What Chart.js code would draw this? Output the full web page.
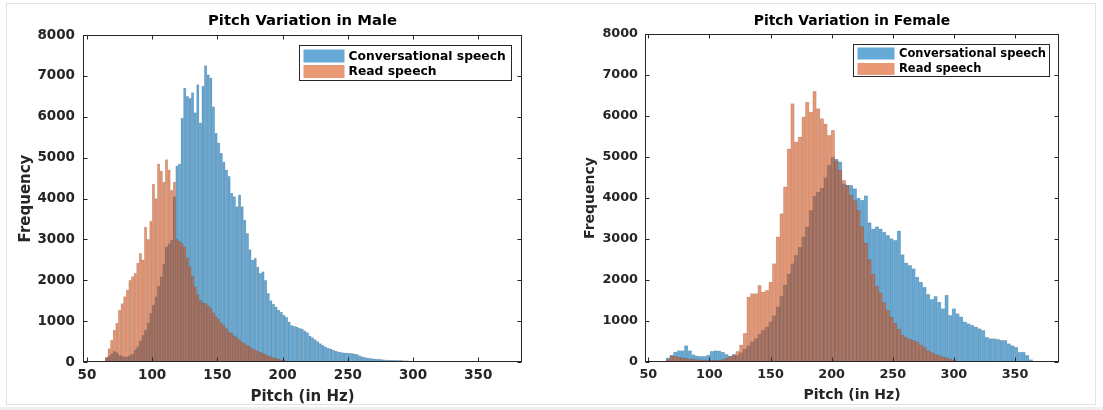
<!DOCTYPE html>
<html>
<head>
<meta charset="utf-8">
<script src="https://cdn.jsdelivr.net/npm/chart.js@4.4.1/dist/chart.umd.min.js"></script>
<style>
html,body{margin:0;padding:0;background:#fff;}
#wrap{position:relative;width:1103px;height:410px;overflow:hidden;background:#fff;}
#frame{position:absolute;left:6px;top:3px;width:1090px;height:402px;border:1px solid #e2e2e2;box-sizing:border-box;}
#strip{position:absolute;left:0;top:407px;width:1103px;height:3px;background:#efefef;}
.c{position:absolute;top:0;height:410px;}
#cA{left:0;width:551px;}
#cB{left:551px;width:552px;}
</style>
</head>
<body>
<div id="wrap">
  <div id="frame"></div>
  <div id="strip"></div>
  <div class="c" id="cA"><canvas id="male" width="551" height="410"></canvas></div>
  <div class="c" id="cB"><canvas id="female" width="552" height="410"></canvas></div>
</div>
<script>
// ---------------- DATA ----------------
const seriesNames = ['Conversational speech', 'Read speech'];
const xTicks = [50, 100, 150, 200, 250, 300, 350];
const yTicks = [0, 1000, 2000, 3000, 4000, 5000, 6000, 7000, 8000];

// Male: bin centres (Hz), 2 Hz bins
const maleCenters = [
  63,65,67,69,71,73,75,77,79,81,
  83,85,87,89,91,93,95,97,99,101,
  103,105,107,109,111,113,115,117,119,121,
  123,125,127,129,131,133,135,137,139,141,
  143,145,147,149,151,153,155,157,159,161,
  163,165,167,169,171,173,175,177,179,181,
  183,185,187,189,191,193,195,197,199,201,
  203,205,207,209,211,213,215,217,219,221,
  223,225,227,229,231,233,235,237,239,241,
  243,245,247,249,251,253,255,257,259,261,
  263,265,267,269,271,273,275,277,279,281,
  283,285,287,289,291,293,295,297,299,301,
  303,305,307,309,311,313,315,317,319,321,
  323,325
];
const maleConversational = [
  0,100,150,200,260,230,170,150,120,130,
  170,200,300,380,520,650,780,960,1190,1400,
  1600,1850,2090,2400,2820,2900,2990,4050,4800,4850,
  5970,6710,6500,6450,6590,6100,6790,5850,6750,7250,
  7030,6950,6250,5600,5360,5110,4900,4700,4540,4130,
  4050,3800,4090,3800,3480,3150,2750,2500,2540,2330,
  2170,2210,2000,1680,1500,1420,1350,1270,1220,1150,
  1100,980,900,870,860,830,810,760,720,640,
  600,550,500,450,410,370,340,320,290,265,
  250,235,225,225,215,215,200,190,160,130,
  115,100,90,85,75,70,65,60,55,50,
  50,45,42,40,40,35,33,30,25,20,
  15,12,12,10,8,6,8,10,15,12,
  8,5
];
const maleRead = [
  0,120,330,530,780,950,1270,1430,1600,1760,
  2000,2090,2170,2420,2660,2500,3300,3000,3450,4350,
  4000,4850,4680,4400,4950,4700,4200,4400,3000,2950,
  2900,2820,2550,2330,2100,1840,1650,1510,1450,1430,
  1380,1310,1200,1110,1050,950,900,820,740,700,
  640,600,540,490,450,410,380,330,300,270,
  240,210,180,150,130,110,90,70,55,40,
  30,20,12,6
];

// Female: bin centres (Hz), 3 Hz bins
const femaleCenters = [
  66,69,72,75,78,81,84,87,90,93,
  96,99,102,105,108,111,114,117,120,123,
  126,129,132,135,138,141,144,147,150,153,
  156,159,162,165,168,171,174,177,180,183,
  186,189,192,195,198,201,204,207,210,213,
  216,219,222,225,228,231,234,237,240,243,
  246,249,252,255,258,261,264,267,270,273,
  276,279,282,285,288,291,294,297,300,303,
  306,309,312,315,318,321,324,327,330,333,
  336,339,342,345,348,351,354,357,360,363
];
const femaleConversational = [
  100,170,240,280,280,400,280,180,150,140,
  140,170,260,280,270,240,190,140,190,160,
  230,320,400,500,580,680,770,860,980,1130,
  1350,1600,1880,2150,2400,2600,2800,3050,3300,3700,
  4050,4150,4250,4500,4800,5000,4950,4880,4350,4320,
  4310,4230,4000,3950,4060,3400,3250,3300,3250,3170,
  3090,3010,2970,3200,2620,2420,2360,2280,2070,1950,
  1830,1650,1530,1600,1460,1300,1630,1140,1300,1180,
  1100,980,940,900,855,815,775,610,570,570,
  550,530,530,450,400,366,244,244,163,57
];
const femaleRead = [
  60,150,140,120,100,90,80,70,60,50,
  45,40,40,45,50,60,90,140,160,260,
  420,700,1590,1670,1670,1870,1710,1750,1950,2400,
  3050,3620,4270,5200,6300,5370,5490,5980,6340,6100,
  6600,6180,5940,5810,5530,5650,4900,4680,4430,4300,
  4070,3940,3700,3300,2900,2500,2150,1850,1690,1450,
  1260,1100,950,800,660,600,560,530,490,420,
  360,280,230,190,160,125,100,80,50,25
];

// ---------------- STYLE ----------------
const FONT = '"DejaVu Sans", "Liberation Sans", sans-serif';
const BLUE = 'rgba(0,114,189,0.6)';
const ORANGE = 'rgba(217,83,25,0.6)';
const EDGE = 'rgba(0,0,0,0.18)';
Chart.defaults.color = '#262626';
Chart.defaults.font.family = FONT;

function toPoints(centers, vals) {
  return vals.map((v, i) => ({ x: centers[i], y: v }));
}

const matlabPlugin = {
  id: 'matlabFrame',
  afterDatasetsDraw(chart, args, o) {
    const { ctx, chartArea: a, scales: { x, y } } = chart;
    ctx.save();
    ctx.strokeStyle = '#262626';
    ctx.lineWidth = 1;
    const L = Math.round(a.left) + 0.5, R = Math.round(a.right) - 0.5;
    const T = Math.round(a.top) + 0.5, B = Math.round(a.bottom) - 0.5;
    ctx.strokeRect(L, T, R - L, B - T);
    ctx.beginPath();
    xTicks.forEach(v => {
      const px = Math.round(x.getPixelForValue(v)) + 0.5;
      ctx.moveTo(px, B); ctx.lineTo(px, B - o.tickLen);
      ctx.moveTo(px, T); ctx.lineTo(px, T + o.tickLen);
    });
    yTicks.forEach(v => {
      const py = Math.round(y.getPixelForValue(v)) + 0.5;
      ctx.moveTo(L, py); ctx.lineTo(L + o.tickLen, py);
      ctx.moveTo(R, py); ctx.lineTo(R - o.tickLen, py);
    });
    ctx.stroke();

    // title
    ctx.fillStyle = '#000';
    ctx.font = 'bold ' + o.titleSize + 'px ' + FONT;
    ctx.textAlign = 'center';
    ctx.textBaseline = 'middle';
    ctx.fillText(o.title, (a.left + a.right) / 2, o.titleY);

    // legend box
    const bx = Math.round(a.right - o.lgRight - o.lgW) + 0.5;
    const by = Math.round(a.top + o.lgTop) + 0.5;
    ctx.fillStyle = '#fff';
    ctx.fillRect(bx, by, o.lgW, o.lgH);
    ctx.strokeStyle = '#262626';
    ctx.strokeRect(bx, by, o.lgW, o.lgH);
    ctx.font = 'bold ' + o.lgSize + 'px ' + FONT;
    ctx.textAlign = 'left';
    chart.data.datasets.forEach((ds, i) => {
      const cy = by + o.lgRows[i];
      ctx.fillStyle = ds.backgroundColor;
      ctx.fillRect(bx + o.swX, cy - o.swH / 2, o.swW, o.swH);
      ctx.fillStyle = '#000';
      ctx.fillText(ds.label, bx + o.txtX, cy + 0.5);
    });
    ctx.restore();
  }
};

function makeChart(id, cfg) {
  return new Chart(document.getElementById(id), {
    type: 'bar',
    data: {
      datasets: [
        { label: seriesNames[0], data: toPoints(cfg.centers, cfg.conv), backgroundColor: BLUE,
          borderColor: EDGE, borderWidth: { left: 0.5, right: 0.5, top: 0.5 }, order: 1 },
        { label: seriesNames[1], data: toPoints(cfg.centers, cfg.read), backgroundColor: ORANGE,
          borderColor: EDGE, borderWidth: { left: 0.5, right: 0.5, top: 0.5 }, order: 0 }
      ]
    },
    options: {
      responsive: false,
      animation: false,
      events: [],
      grouped: false,
      barPercentage: 1,
      categoryPercentage: 1,
      layout: { padding: { left: 0, right: cfg.padRight, top: cfg.padTop, bottom: 0 } },
      scales: {
        x: {
          type: 'linear', min: cfg.xMin, max: cfg.xMax, offset: false,
          grid: { display: false, drawTicks: false }, border: { display: false },
          afterBuildTicks: s => { s.ticks = xTicks.map(v => ({ value: v })); },
          afterFit: s => { s.height = cfg.xAxisH; },
          ticks: { autoSkip: false, maxRotation: 0, padding: cfg.xTickPad, color: '#262626',
                   font: { size: cfg.tickSize, weight: 'bold' }, callback: v => String(v) },
          title: { display: true, text: 'Pitch (in Hz)', color: '#262626',
                   font: { size: cfg.labelSize, weight: 'bold' }, padding: { top: 0, bottom: cfg.xTitlePad } }
        },
        y: {
          min: 0, max: 8000,
          grid: { display: false, drawTicks: false }, border: { display: false },
          afterBuildTicks: s => { s.ticks = yTicks.map(v => ({ value: v })); },
          afterFit: s => { s.width = cfg.yAxisW; },
          ticks: { padding: cfg.yTickPad, color: '#262626',
                   font: { size: cfg.tickSize, weight: 'bold' }, callback: v => String(v) },
          title: { display: true, text: 'Frequency', color: '#262626',
                   font: { size: cfg.labelSize, weight: 'bold' }, padding: { top: cfg.yTitlePad, bottom: 0 } }
        }
      },
      plugins: {
        legend: { display: false },
        tooltip: { enabled: false },
        matlabFrame: cfg.frame
      }
    },
    plugins: [matlabPlugin]
  });
}

makeChart('male', {
  centers: maleCenters, conv: maleConversational, read: maleRead,
  xMin: 47, xMax: 383.5,
  padRight: 29, padTop: 35, xAxisH: 48, yAxisW: 83,
  tickSize: 13.5, labelSize: 15, xTickPad: 5, yTickPad: 8, xTitlePad: 4, yTitlePad: 17,
  frame: { title: 'Pitch Variation in Male', titleSize: 14.8, titleY: 21.5, tickLen: 4,
           lgRight: 11, lgTop: 10, lgW: 212, lgH: 35, lgRows: [10.5, 26], swX: 4, swW: 41, swH: 13,
           txtX: 49, lgSize: 12.3 }
});

makeChart('female', {
  centers: femaleCenters, conv: femaleConversational, read: femaleRead,
  xMin: 47.3, xMax: 386,
  padRight: 44, padTop: 34, xAxisH: 48, yAxisW: 94,
  tickSize: 12.8, labelSize: 14, xTickPad: 5, yTickPad: 7, xTitlePad: 6.6, yTitlePad: 30.6,
  frame: { title: 'Pitch Variation in Female', titleSize: 13.9, titleY: 21.5, tickLen: 4,
           lgRight: 10, lgTop: 10, lgW: 196, lgH: 32, lgRows: [9, 24.5], swX: 4, swW: 37, swH: 12,
           txtX: 45.5, lgSize: 11.5 }
});
</script>
</body>
</html>
